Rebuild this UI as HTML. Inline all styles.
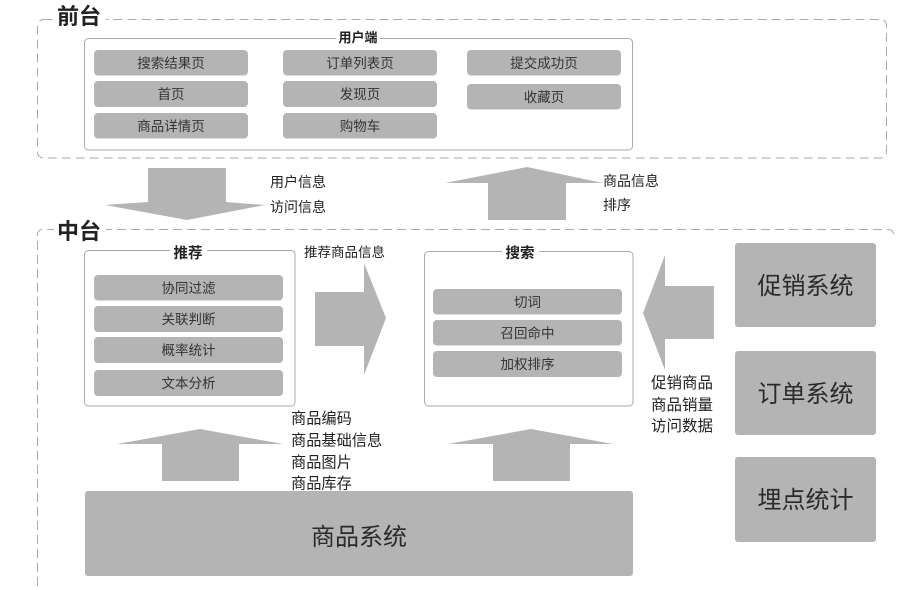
<!DOCTYPE html>
<html><head><meta charset="utf-8"><style>
html,body{margin:0;padding:0;background:#fff;}
svg{display:block;}
text{font-family:"Liberation Sans","Noto Sans CJK SC",sans-serif;}
</style></head><body>
<svg width="915" height="590" viewBox="0 0 915 590" xmlns="http://www.w3.org/2000/svg">
<!-- 前台 dashed region -->
<rect x="37.5" y="19.5" width="849" height="138.5" rx="6" fill="none" stroke="#aaa" stroke-width="1" stroke-dasharray="9 5"/>
<rect x="54" y="6" width="52" height="24" fill="#fff"/>
<text x="57" y="24" font-size="22" font-weight="bold" fill="#222">前台</text>

<!-- 中台 dashed region -->
<path d="M37.5 600 L37.5 235 Q37.5 229.5 43 229.5 L888 229.5 Q893 229.5 893.5 234" fill="none" stroke="#aaa" stroke-width="1" stroke-dasharray="9 5"/>
<rect x="54" y="216" width="52" height="26" fill="#fff"/>
<text x="57" y="239" font-size="22" font-weight="bold" fill="#222">中台</text>

<!-- 用户端 box -->
<rect x="84.5" y="38.5" width="548" height="111.5" rx="4" fill="none" stroke="#aaa" stroke-width="1"/>
<rect x="336" y="30" width="44" height="16" fill="#fff"/>
<text x="358" y="42" font-size="13" font-weight="bold" text-anchor="middle" fill="#222">用户端</text>

<g fill="#b4b4b4">
<rect x="94" y="50" width="154" height="25.5" rx="4"/>
<rect x="94" y="81" width="154" height="26" rx="4"/>
<rect x="94" y="113" width="154" height="25.5" rx="4"/>
<rect x="283" y="50" width="154" height="25.5" rx="4"/>
<rect x="283" y="81" width="154" height="26" rx="4"/>
<rect x="283" y="113" width="154" height="25.5" rx="4"/>
<rect x="467" y="50" width="154" height="25.5" rx="4"/>
<rect x="467" y="84" width="154" height="25.5" rx="4"/>
</g>
<g font-size="13.5" fill="#333" text-anchor="middle">
<text x="171" y="68">搜索结果页</text>
<text x="171" y="99">首页</text>
<text x="171" y="131">商品详情页</text>
<text x="360" y="68">订单列表页</text>
<text x="360" y="99">发现页</text>
<text x="360" y="131">购物车</text>
<text x="544" y="68">提交成功页</text>
<text x="544" y="102">收藏页</text>
</g>

<!-- down arrow -->
<polygon points="148,168 226,168 226,202 265,205 187,220 105,205 148,202" fill="#b4b4b4"/>
<text x="270" y="187" font-size="14" fill="#222">用户信息</text>
<text x="270" y="212" font-size="14" fill="#222">访问信息</text>

<!-- up arrow -->
<polygon points="527,167 603,183 566,183 566,220 488,220 488,183 445,183" fill="#b4b4b4"/>
<text x="603" y="186" font-size="14" fill="#222">商品信息</text>
<text x="603" y="210" font-size="14" fill="#222">排序</text>

<!-- 推荐 box -->
<rect x="84.5" y="250.5" width="210.5" height="155.5" rx="4" fill="none" stroke="#aaa" stroke-width="1"/>
<rect x="170" y="244" width="37" height="16" fill="#fff"/>
<text x="188" y="258" font-size="14.5" font-weight="bold" text-anchor="middle" fill="#222">推荐</text>
<g fill="#b4b4b4">
<rect x="94" y="275" width="189" height="25.5" rx="4"/>
<rect x="94" y="306" width="189" height="26" rx="4"/>
<rect x="94" y="337" width="189" height="26" rx="4"/>
<rect x="94" y="370" width="189" height="26" rx="4"/>
</g>
<g font-size="13.5" fill="#333" text-anchor="middle">
<text x="188.5" y="293">协同过滤</text>
<text x="188.5" y="324">关联判断</text>
<text x="188.5" y="355">概率统计</text>
<text x="188.5" y="388">文本分析</text>
</g>
<text x="304" y="257" font-size="13.5" fill="#222">推荐商品信息</text>

<!-- right arrow -->
<polygon points="315,292 364,292 364,263 386,318 364,375 364,346 315,346" fill="#b4b4b4"/>

<!-- 搜索 box -->
<rect x="424.5" y="251.5" width="208.5" height="154.5" rx="4" fill="none" stroke="#aaa" stroke-width="1"/>
<rect x="502" y="244" width="37" height="16" fill="#fff"/>
<text x="520" y="258" font-size="14.5" font-weight="bold" text-anchor="middle" fill="#222">搜索</text>
<g fill="#b4b4b4">
<rect x="433" y="289" width="189" height="25.5" rx="4"/>
<rect x="433" y="320" width="189" height="25.5" rx="4"/>
<rect x="433" y="351" width="189" height="26" rx="4"/>
</g>
<g font-size="13.5" fill="#333" text-anchor="middle">
<text x="527.5" y="307">切词</text>
<text x="527.5" y="338">召回命中</text>
<text x="527.5" y="369">加权排序</text>
</g>

<!-- left arrow -->
<polygon points="643,313 665,255 665,286 714,286 714,339 665,339 665,370" fill="#b4b4b4"/>
<g font-size="15.5" fill="#222">
<text x="651" y="388">促销商品</text>
<text x="651" y="410">商品销量</text>
<text x="651" y="431">访问数据</text>
</g>

<!-- right systems -->
<g fill="#b4b4b4">
<rect x="735" y="243" width="141" height="84" rx="3"/>
<rect x="735" y="351" width="141" height="84" rx="3"/>
<rect x="735" y="457" width="141" height="85" rx="3"/>
</g>
<g font-size="24" fill="#2a2a2a" text-anchor="middle">
<text x="805.5" y="294">促销系统</text>
<text x="805.5" y="402">订单系统</text>
<text x="805.5" y="508">埋点统计</text>
</g>

<!-- bottom up arrows -->
<polygon points="200,429 283,444 239,444 239,481 162,481 162,444 117,444" fill="#b4b4b4"/>
<polygon points="531,429 613,444 570,444 570,481 493,481 493,444 448,444" fill="#b4b4b4"/>
<g font-size="15.2" fill="#222">
<text x="291" y="423.5">商品编码</text>
<text x="291" y="445.5">商品基础信息</text>
<text x="291" y="467.5">商品图片</text>
<text x="291" y="488.5">商品库存</text>
</g>

<!-- 商品系统 -->
<rect x="85" y="491" width="548" height="85" rx="3" fill="#b4b4b4"/>
<text x="359" y="545" font-size="24" fill="#2a2a2a" text-anchor="middle">商品系统</text>
</svg>
</body></html>
